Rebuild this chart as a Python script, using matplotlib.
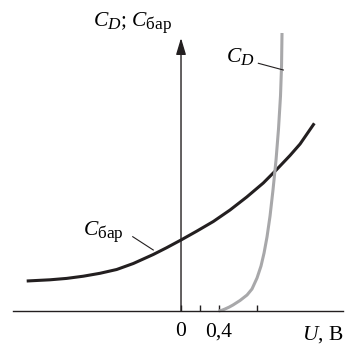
import matplotlib
matplotlib.use("Agg")
import matplotlib.pyplot as plt
import matplotlib._mathtext as mathtext_internal

# subscripts in the reference are only slightly smaller than the main text
mathtext_internal.SHRINK_FACTOR = 0.8

plt.rcParams["mathtext.fontset"] = "custom"
plt.rcParams["mathtext.rm"] = "Liberation Serif"
plt.rcParams["mathtext.it"] = "Liberation Serif:italic"
plt.rcParams["font.family"] = ["Liberation Serif", "DejaVu Serif"]

# barrier capacitance (arbitrary units) vs voltage U, V
u_bar = [-1.624, -1.379, -1.203, -1.028, -0.853, -0.677, -0.502, -0.292, -0.151,
         0.0, 0.165, 0.340, 0.516, 0.692, 0.866, 1.007, 1.147, 1.253, 1.403]
c_bar = [30.0, 31.2, 32.6, 34.8, 37.7, 41.5, 47.5, 56.5, 63.3,
         71.0, 79.8, 89.5, 101, 114, 128, 141.5, 155.5, 167, 187.7]

# diffusion capacitance
u_d = [0.395, 0.432, 0.463, 0.505, 0.547, 0.621, 0.695, 0.747, 0.800, 0.842,
       0.874, 0.905, 0.937, 0.968, 1.000, 1.026, 1.047, 1.058, 1.063]
c_d = [0, 0.8, 2, 3.8, 6, 10.5, 16, 22, 33, 45,
       58, 74, 95, 121, 151, 182, 215, 245, 278]

xticks = [0, 0.2, 0.4, 0.8]
xticklabels = ["0", "", "0,4", ""]

fig = plt.figure(figsize=(3.51, 3.48), dpi=100)
ax = fig.add_axes([0, 0, 1, 1])
ax.set_xlim(-1.905, 1.789)
ax.set_ylim(-37, 311)

ax.plot(u_bar, c_bar, color="#231f20", lw=2.2, solid_capstyle="butt")
ax.plot(u_d, c_d, color="#a8a8aa", lw=2.2, solid_capstyle="butt")

for s in ["top", "right", "left"]:
    ax.spines[s].set_visible(False)
ax.spines["bottom"].set_position(("data", 0))
ax.spines["bottom"].set_bounds(-1.77, 1.705)
ax.spines["bottom"].set_color("#231f20")
ax.spines["bottom"].set_linewidth(1.0)

# vertical axis with arrow
ax.annotate("", xy=(0, 273), xytext=(0, 0),
            arrowprops=dict(arrowstyle="-|>,head_length=1.0,head_width=0.3",
                            color="#231f20", lw=1.0, shrinkA=0, shrinkB=0))

ax.set_yticks([])
ax.set_xticks(xticks)
ax.set_xticklabels(xticklabels, fontsize=15.5)
ax.tick_params(axis="x", direction="in", length=4, width=1.0, pad=8, color="#231f20")

ax.text(1.495, -24, r"$U$, В", fontsize=15.5, ha="center", va="center")
ax.text(-0.095, 285, r"$C_D$; $C_{\mathrm{бар}}$", fontsize=15.5, ha="right", va="baseline")

ax.text(0.77, 249, r"$C_D$", fontsize=15.5, ha="right", va="baseline")
ax.plot([0.814, 1.077], [247.7, 241], color="#231f20", lw=0.8)

ax.text(-1.03, 76, r"$C_{\mathrm{бар}}$", fontsize=15.5, ha="left", va="baseline")
ax.plot([-0.508, -0.292], [74.3, 61], color="#231f20", lw=0.8)

fig.savefig("out.png", dpi=100)
